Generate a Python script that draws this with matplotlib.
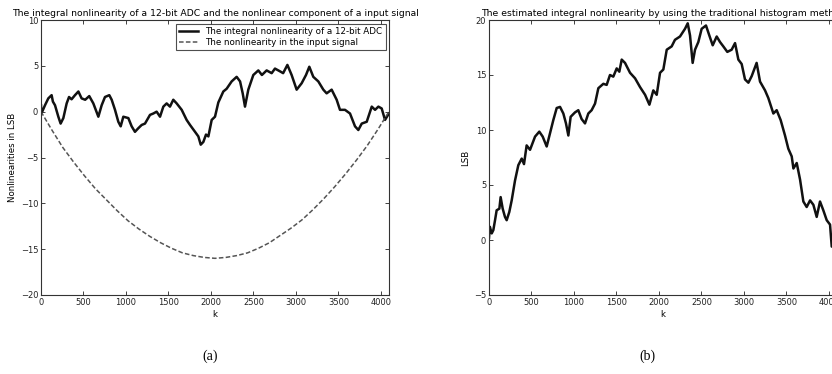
import numpy as np
import matplotlib
matplotlib.use("Agg")
import matplotlib.pyplot as plt

# ---------------------------------------------------------------
# Values
# ---------------------------------------------------------------
# (a) integral nonlinearity of a 12-bit ADC
inl_k = [0, 5, 47, 86, 125, 140, 165, 204, 231, 263, 302, 330, 360, 400, 440, 478, 520,
         568, 616, 675, 714, 753, 804, 832, 871, 910, 938, 969, 1028, 1067, 1106, 1146,
         1185, 1224, 1283, 1322, 1361, 1401, 1440, 1479, 1518, 1557, 1597, 1656, 1714,
         1754, 1813, 1852, 1880, 1911, 1942, 1970, 2009, 2048, 2087, 2146, 2185, 2244,
         2303, 2343, 2374, 2401, 2440, 2499, 2558, 2600, 2656, 2715, 2754, 2813, 2850,
         2900, 2950, 3009, 3068, 3119, 3158, 3205, 3264, 3323, 3362, 3421, 3480, 3519,
         3578, 3637, 3696, 3735, 3775, 3834, 3893, 3932, 3971, 4010, 4049, 4095]
inl_v = [0.7, -0.2, 0.7, 1.45, 1.8, 1.1, 0.7, -0.55, -1.3, -0.7, 0.9, 1.6, 1.35, 1.8,
         2.2, 1.45, 1.3, 1.7, 0.9, -0.55, 0.7, 1.6, 1.8, 1.3, 0.2, -1.1, -1.6, -0.55,
         -0.7, -1.6, -2.2, -1.8, -1.45, -1.3, -0.35, -0.2, 0.0, -0.55, 0.55, 0.9, 0.55,
         1.3, 0.9, 0.2, -0.9, -1.45, -2.2, -2.7, -3.6, -3.3, -2.5, -2.7, -0.9, -0.55,
         1.0, 2.2, 2.5, 3.3, 3.8, 3.3, 2.0, 0.55, 2.4, 4.0, 4.5, 4.0, 4.5, 4.2, 4.7,
         4.4, 4.2, 5.1, 4.0, 2.4, 3.1, 4.0, 4.9, 3.8, 3.3, 2.4, 2.0, 2.4, 1.3, 0.2, 0.2,
         -0.2, -1.6, -2.0, -1.3, -1.1, 0.55, 0.2, 0.55, 0.35, -0.9, -0.2]

# (a) nonlinearity in the input signal
sig_k = [0, 128, 256, 384, 512, 640, 768, 896, 1024, 1152, 1280, 1408, 1536, 1664,
         1792, 1920, 2048, 2176, 2304, 2432, 2560, 2688, 2816, 2944, 3072, 3200,
         3328, 3456, 3584, 3712, 3840, 3968, 4095]
sig_v = [0.0, -2.0, -3.9, -5.5, -7.0, -8.4, -9.6, -10.8, -11.9, -12.8, -13.6, -14.3,
         -14.9, -15.4, -15.7, -15.9, -16.0, -15.9, -15.7, -15.4, -14.9, -14.3, -13.5,
         -12.7, -11.8, -10.7, -9.5, -8.2, -6.8, -5.3, -3.7, -1.9, 0.0]

# (b) INL estimated by the traditional histogram method
est_k = [0, 10, 32, 51, 71, 90, 122, 137, 161, 188, 208, 239, 267, 306, 345, 385, 412,
         443, 483, 542, 592, 632, 679, 718, 757, 797, 836, 875, 906, 934, 961, 1012,
         1051, 1090, 1130, 1169, 1208, 1248, 1287, 1346, 1385, 1424, 1463, 1503, 1534,
         1562, 1601, 1660, 1719, 1778, 1837, 1888, 1934, 1974, 2013, 2052, 2092, 2150,
         2189, 2248, 2307, 2339, 2366, 2397, 2425, 2464, 2503, 2554, 2593, 2633, 2680,
         2719, 2758, 2805, 2856, 2896, 2935, 2974, 3013, 3053, 3092, 3150, 3190, 3249,
         3288, 3347, 3386, 3433, 3484, 3523, 3563, 3583, 3622, 3661, 3700, 3739, 3779,
         3818, 3857, 3896, 3935, 3975, 4014, 4034, 4095]
est_v = [0.2, 1.2, 0.6, 0.9, 1.8, 2.7, 2.85, 3.9, 2.85, 2.1, 1.8, 2.55, 3.6, 5.4, 6.8,
         7.4, 6.9, 8.6, 8.2, 9.4, 9.85, 9.4, 8.5, 9.7, 10.9, 12.0, 12.1, 11.5, 10.6, 9.5,
         11.2, 11.6, 11.8, 11.0, 10.6, 11.5, 11.8, 12.4, 13.8, 14.2, 14.1, 15.0, 14.85,
         15.6, 15.3, 16.4, 16.1, 15.2, 14.7, 13.9, 13.2, 12.3, 13.6, 13.2, 15.2, 15.5,
         17.3, 17.6, 18.2, 18.5, 19.2, 19.7, 18.6, 16.1, 17.3, 18.0, 19.2, 19.5, 18.6,
         17.7, 18.5, 18.0, 17.6, 17.1, 17.3, 17.9, 16.4, 16.0, 14.6, 14.3, 14.9, 16.1,
         14.4, 13.6, 12.9, 11.5, 11.8, 10.9, 9.5, 8.3, 7.6, 6.5, 7.0, 5.5, 3.5, 3.0,
         3.6, 3.2, 2.1, 3.5, 2.7, 1.8, 1.4, -0.6, -0.6]

x_ticks = [0, 500, 1000, 1500, 2000, 2500, 3000, 3500, 4000]

plt.rcParams['font.family'] = ['DejaVu Sans']

fig = plt.figure(figsize=(8.32, 3.74), dpi=100)
ax1 = fig.add_axes([41 / 832, 1 - 295 / 374, 348 / 832, 275 / 374])
ax2 = fig.add_axes([489 / 832, 1 - 295 / 374, 348 / 832, 275 / 374])


def style_axes(ax):
    ax.set_xlim(0, 4096)
    ax.set_xticks(x_ticks)
    ax.tick_params(direction='in', length=3, width=0.6, top=True, right=True,
                   labelsize=6, pad=2, colors='#222222')
    for sp in ax.spines.values():
        sp.set_linewidth(0.8)
        sp.set_color('#333333')
    ax.set_xlabel('k', fontsize=6.2, labelpad=2)


# (a)
ax1.plot(inl_k, inl_v, color='#111111', linewidth=1.8,
         label='The integral nonlinearity of a 12-bit ADC')
ax1.plot(sig_k, sig_v, color='#555555', linewidth=1.1, linestyle='--',
         dashes=(3, 1.5), label='The nonlinearity in the input signal')
style_axes(ax1)
ax1.set_ylim(-20, 10)
ax1.set_yticks([-20, -15, -10, -5, 0, 5, 10])
ax1.set_ylabel('Nonlinearities in LSB', fontsize=6.2, labelpad=3)
ax1.set_title('The integral nonlinearity of a 12-bit ADC and the nonlinear component of a input signal',
              fontsize=6.7, pad=3)
leg = ax1.legend(loc='upper right', fontsize=6.3, frameon=True, fancybox=False,
                 borderaxespad=0.4, handlelength=2.2, labelspacing=0.25,
                 borderpad=0.35)
leg.get_frame().set_edgecolor('#222222')
leg.get_frame().set_linewidth(0.8)

# (b)
ax2.plot(est_k, est_v, color='#111111', linewidth=1.8)
style_axes(ax2)
ax2.set_ylim(-5, 20)
ax2.set_yticks([-5, 0, 5, 10, 15, 20])
ax2.set_ylabel('LSB', fontsize=6.2, labelpad=3)
ax2.set_title('The estimated integral nonlinearity by using the traditional histogram method',
              fontsize=6.7, pad=3)

# captions
fig.text(210 / 832, 1 - 356 / 374, '(a)', ha='center', va='center',
         fontsize=10, family='Liberation Serif')
fig.text(647 / 832, 1 - 356 / 374, '(b)', ha='center', va='center',
         fontsize=10, family='Liberation Serif')

fig.savefig('out.png', dpi=100)
